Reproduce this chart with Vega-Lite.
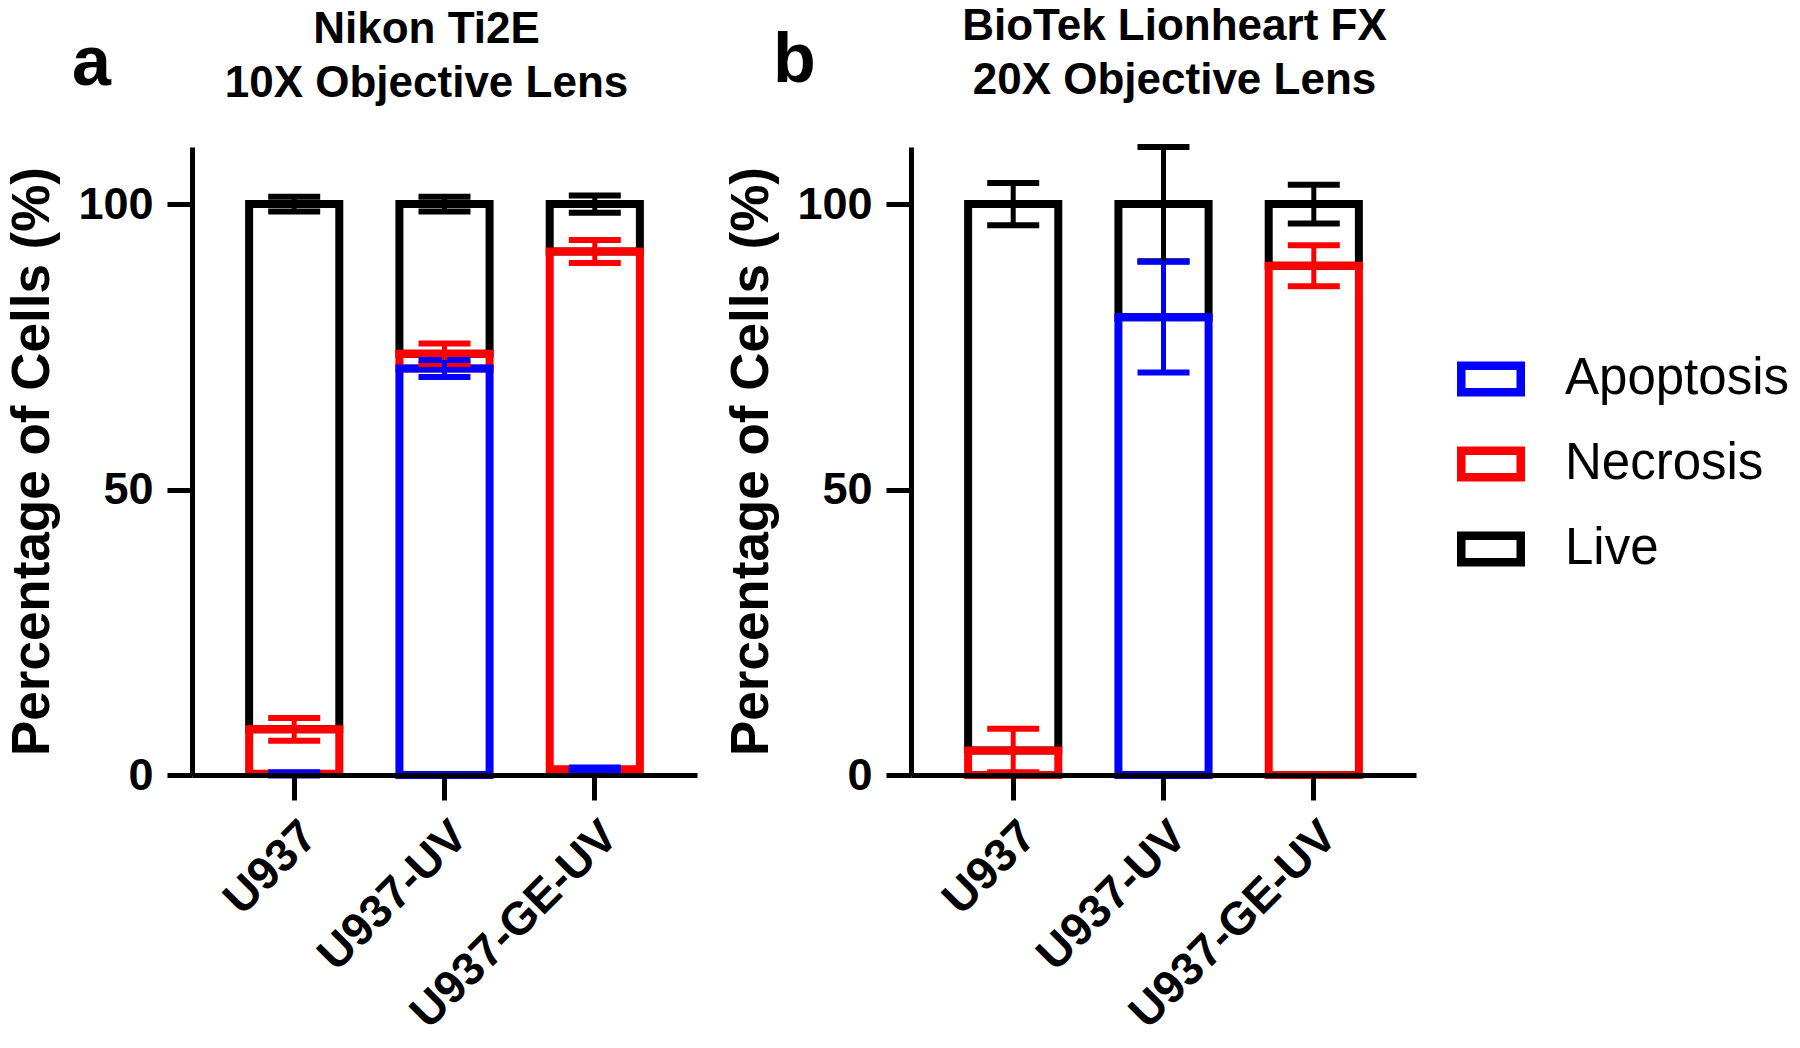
{
  "$schema": "https://vega.github.io/schema/vega-lite/v6.json",
  "padding": {"left": 6, "top": 5, "right": 0, "bottom": 0},
  "background": "white",
  "config": {
    "font": "Liberation Sans",
    "view": {"stroke": null},
    "axis": {"grid": false, "domainColor": "black", "tickColor": "black", "labelColor": "black", "titleColor": "black", "domainWidth": 5, "tickWidth": 5, "tickSize": 25, "labelFont": "Liberation Sans", "titleFont": "Liberation Sans", "labelFontWeight": "bold", "titleFontWeight": "bold"},
    "legend": {"labelLimit": 0},
    "concat": {"spacing": 28}
  },
  "data": {"values": [
    {"panel": "a", "sample": "U937", "type": "Live", "mean": 92.0, "sd": 1.3},
    {"panel": "a", "sample": "U937", "type": "Necrosis", "mean": 7.8, "sd": 2.0},
    {"panel": "a", "sample": "U937", "type": "Apoptosis", "mean": 0.2, "sd": 0.3},
    {"panel": "a", "sample": "U937-UV", "type": "Live", "mean": 26.2, "sd": 1.3},
    {"panel": "a", "sample": "U937-UV", "type": "Necrosis", "mean": 2.6, "sd": 1.8},
    {"panel": "a", "sample": "U937-UV", "type": "Apoptosis", "mean": 71.2, "sd": 1.5},
    {"panel": "a", "sample": "U937-GE-UV", "type": "Live", "mean": 8.3, "sd": 1.5},
    {"panel": "a", "sample": "U937-GE-UV", "type": "Necrosis", "mean": 90.7, "sd": 2.0},
    {"panel": "a", "sample": "U937-GE-UV", "type": "Apoptosis", "mean": 1.0, "sd": 0.3},
    {"panel": "b", "sample": "U937", "type": "Live", "mean": 95.7, "sd": 3.7},
    {"panel": "b", "sample": "U937", "type": "Necrosis", "mean": 4.3, "sd": 3.8},
    {"panel": "b", "sample": "U937-UV", "type": "Live", "mean": 19.8, "sd": 10.0},
    {"panel": "b", "sample": "U937-UV", "type": "Apoptosis", "mean": 80.2, "sd": 9.7},
    {"panel": "b", "sample": "U937-GE-UV", "type": "Live", "mean": 10.8, "sd": 3.4},
    {"panel": "b", "sample": "U937-GE-UV", "type": "Necrosis", "mean": 89.2, "sd": 3.6}
  ]},
  "hconcat": [
    {
      "title": {"text": "a", "anchor": "start", "frame": "bounds", "fontSize": 70, "fontWeight": "bold", "color": "black", "baseline": "alphabetic", "offset": -147, "dx": 65},
      "vconcat": [
        {
          "width": 505, "height": 628,
          "title": {"text": ["Nikon Ti2E", "10X Objective Lens"], "frame": "group", "anchor": "middle", "fontSize": 44, "fontWeight": "bold", "color": "black", "lineHeight": 54, "baseline": "alphabetic", "offset": 6, "dx": -18},
          "transform": [
            {"filter": "datum.panel == 'a'"},
            {"calculate": "indexof(['Apoptosis','Necrosis','Live'], datum.type)", "as": "rank"},
            {"stack": "mean", "groupby": ["sample"], "sort": [{"field": "rank", "order": "ascending"}], "as": ["lo", "hi"]}
          ],
          "encoding": {
            "x": {"field": "sample", "type": "nominal", "scale": {"domain": ["U937", "U937-UV", "U937-GE-UV"], "paddingInner": 0.4, "paddingOuter": 0.38},
              "axis": {"title": null, "labelAngle": -45, "labelFontSize": 46, "labelPadding": 13, "labelLimit": 500, "zindex": 1}}
          },
          "layer": [
            {
              "transform": [{"filter": "datum.mean >= 2"}],
              "mark": {"type": "bar", "filled": false, "strokeWidth": 8},
              "encoding": {
                "y": {"field": "hi", "type": "quantitative", "title": "Percentage of Cells (%)", "scale": {"domain": [0, 110], "nice": false},
                  "axis": {"values": [0, 50, 100], "labelFontSize": 45, "labelPadding": 14, "titleFontSize": 53, "titlePadding": 18}},
                "y2": {"field": "lo"},
                "color": {"field": "type", "type": "nominal", "scale": {"domain": ["Apoptosis", "Necrosis", "Live"], "range": ["#0000ff", "#ff0000", "#000000"]},
                  "legend": {"orient": "none", "legendX": 1265, "legendY": 198, "title": null, "symbolType": "M-1,-0.45H1V0.45H-1Z M-0.9833,-0.4333V0.4333H0.9833V-0.4333Z", "symbolSize": 3600, "symbolStrokeWidth": 8, "labelFontSize": 51, "labelFontWeight": "normal", "labelColor": "black", "labelLimit": 0, "rowPadding": 21, "labelOffset": 40}}
              }
            },
            {
              "mark": {"type": "errorbar", "ticks": {"size": 52, "thickness": 6, "opacity": 1}, "rule": {"strokeWidth": 5, "opacity": 1}},
              "encoding": {
                "y": {"field": "hi", "type": "quantitative", "title": "Percentage of Cells (%)"},
                "yError": {"field": "sd"},
                "color": {"field": "type", "type": "nominal", "legend": null}
              }
            }
          ]
        }
      ]
    },
    {
      "title": {"text": "b", "anchor": "start", "frame": "bounds", "fontSize": 70, "fontWeight": "bold", "color": "black", "baseline": "alphabetic", "offset": -147, "dx": 47},
      "vconcat": [
        {
          "width": 505, "height": 628,
          "title": {"text": ["BioTek Lionheart FX", "20X Objective Lens"], "frame": "group", "anchor": "middle", "fontSize": 44, "fontWeight": "bold", "color": "black", "lineHeight": 54, "baseline": "alphabetic", "offset": 6, "dx": 11},
          "transform": [
            {"filter": "datum.panel == 'b'"},
            {"calculate": "indexof(['Apoptosis','Necrosis','Live'], datum.type)", "as": "rank"},
            {"stack": "mean", "groupby": ["sample"], "sort": [{"field": "rank", "order": "ascending"}], "as": ["lo", "hi"]}
          ],
          "encoding": {
            "x": {"field": "sample", "type": "nominal", "scale": {"domain": ["U937", "U937-UV", "U937-GE-UV"], "paddingInner": 0.4, "paddingOuter": 0.38},
              "axis": {"title": null, "labelAngle": -45, "labelFontSize": 46, "labelPadding": 13, "labelLimit": 500, "zindex": 1}}
          },
          "layer": [
            {
              "transform": [{"filter": "datum.mean >= 2"}],
              "mark": {"type": "bar", "filled": false, "strokeWidth": 8},
              "encoding": {
                "y": {"field": "hi", "type": "quantitative", "title": "Percentage of Cells (%)", "scale": {"domain": [0, 110], "nice": false},
                  "axis": {"values": [0, 50, 100], "labelFontSize": 45, "labelPadding": 14, "titleFontSize": 53, "titlePadding": 18}},
                "y2": {"field": "lo"},
                "color": {"field": "type", "type": "nominal", "scale": {"domain": ["Apoptosis", "Necrosis", "Live"], "range": ["#0000ff", "#ff0000", "#000000"]},
                  "legend": {"orient": "none", "legendX": 1265, "legendY": 198, "title": null, "symbolType": "M-1,-0.45H1V0.45H-1Z M-0.9833,-0.4333V0.4333H0.9833V-0.4333Z", "symbolSize": 3600, "symbolStrokeWidth": 8, "labelFontSize": 51, "labelFontWeight": "normal", "labelColor": "black", "labelLimit": 0, "rowPadding": 21, "labelOffset": 40}}
              }
            },
            {
              "mark": {"type": "errorbar", "ticks": {"size": 52, "thickness": 6, "opacity": 1}, "rule": {"strokeWidth": 5, "opacity": 1}},
              "encoding": {
                "y": {"field": "hi", "type": "quantitative", "title": "Percentage of Cells (%)"},
                "yError": {"field": "sd"},
                "color": {"field": "type", "type": "nominal", "legend": null}
              }
            }
          ]
        }
      ]
    }
  ]
}
